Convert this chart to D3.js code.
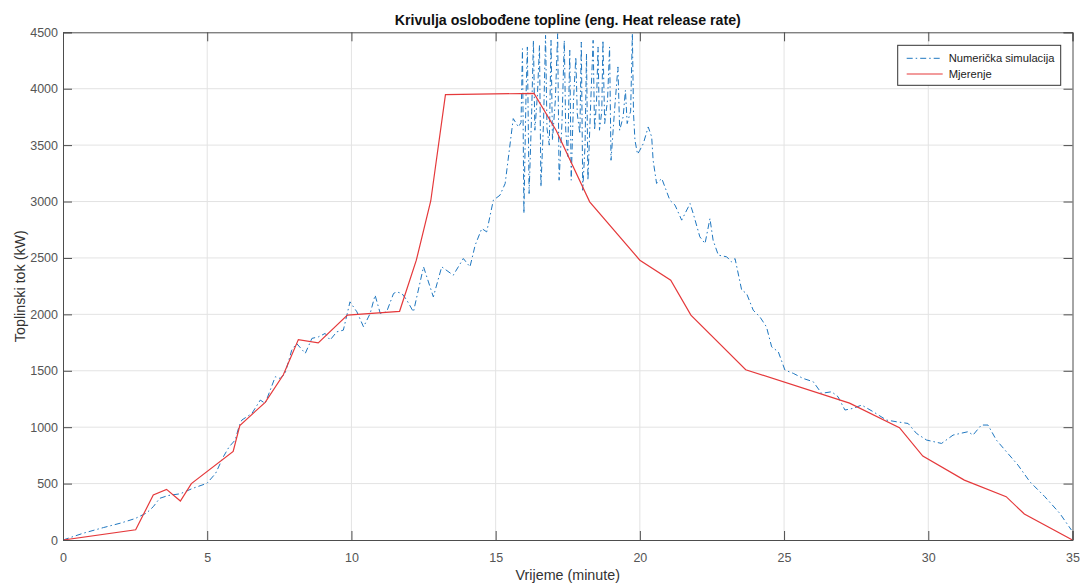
<!DOCTYPE html>
<html>
<head>
<meta charset="utf-8">
<script src="https://cdn.jsdelivr.net/npm/d3@7"></script>
<style>
  body { margin: 0; background: #fff; }
  svg { font-family: "Liberation Sans", Arial, sans-serif; }
</style>
</head>
<body>
<svg id="chart" width="1080" height="584"></svg>
<script>
// Mjerenje (measurement)
let measT = [0, 2.52, 3.13, 3.59, 4.07, 4.45, 5.9, 6.13, 7.01, 7.64, 8.16, 8.85, 9.86, 11.67, 12.25, 12.75, 13.26, 16.33, 17.1, 18.26, 20.0, 21.07, 21.77, 23.67, 27.27, 29.0, 29.81, 31.25, 32.7, 33.33, 35];
let measV = [0, 91, 399, 449, 345, 500, 785, 1015, 1220, 1465, 1776, 1747, 1993, 2027, 2480, 3005, 3947, 3959, 3630, 2997, 2480, 2303, 1993, 1509, 1213, 995, 744, 531, 384, 230, 0];

// Numerička simulacija
let simT = [0, 0.7, 1.4, 2.0, 2.5, 2.9, 3.13, 3.35, 3.64, 4.07, 4.5, 4.99, 5.29, 5.56, 5.76, 5.97, 6.1, 6.2, 6.55, 6.84, 7.01, 7.36, 7.53, 7.7, 7.93, 8.1, 8.4, 8.63, 8.86, 9.09, 9.26, 9.49, 9.72, 9.95, 10.19, 10.42, 10.65, 10.82, 11.0, 11.22, 11.46, 11.57, 11.75, 11.92, 12.15, 12.5, 12.84, 13.13, 13.53, 13.88, 14.11, 14.29, 14.52, 14.69, 14.92, 15.15, 15.33, 15.61, 15.79, 15.88,
  15.93, 15.98, 16.05, 16.1, 16.16, 16.25, 16.31, 16.36, 16.45, 16.52, 16.57, 16.66, 16.73, 16.78, 16.86, 16.92, 16.97, 17.07, 17.15, 17.2, 17.3, 17.38, 17.43, 17.5, 17.57, 17.62, 17.7, 17.78, 17.83, 17.92, 17.97, 18.02, 18.1, 18.15, 18.2, 18.3, 18.38, 18.43, 18.5, 18.55, 18.6, 18.68, 18.72, 18.78, 18.88, 18.95, 19.0, 19.12, 19.24, 19.3, 19.42, 19.5, 19.56, 19.68, 19.74, 19.78, 19.83, 19.92,
  20.0, 20.12, 20.29, 20.41, 20.46, 20.58, 20.76, 21.04, 21.22, 21.45, 21.74, 21.85, 22.08, 22.26, 22.43, 22.54, 22.72, 23.01, 23.18, 23.3, 23.53, 23.7, 23.93, 24.16, 24.39, 24.57, 24.8, 25.03, 25.32, 25.66, 26.01, 26.3, 26.65, 26.87, 27.11, 27.4, 27.69, 28.09, 28.55, 28.9, 29.3, 29.59, 29.94, 30.46, 30.86, 31.38, 31.55, 31.84, 32.07, 32.36, 32.71, 33.11, 33.52, 34.04, 34.56, 34.96];
let simV = [0, 60, 110, 150, 190, 240, 295, 369, 394, 410, 458, 502, 590, 738, 826, 886, 1004, 1063, 1122, 1240, 1211, 1447, 1432, 1477, 1683, 1742, 1654, 1787, 1801, 1831, 1772, 1845, 1860, 2111, 2022, 1889, 2008, 2170, 2008, 2022, 2185, 2199, 2185, 2126, 2022, 2421, 2155, 2421, 2347, 2495, 2421, 2613, 2761, 2731, 3012, 3056, 3160, 3735, 3661, 3700,
  4355, 2894, 3900, 4370, 3071, 3800, 4429, 3632, 3950, 4385, 3130, 3700, 4473, 3650, 3500, 4429, 3543, 3900, 4488, 3189, 3700, 4429, 3632, 3400, 4341, 3189, 3900, 4281, 3780, 3600, 4414, 3100, 3500, 4311, 3189, 3900, 4429, 3632, 3900, 4370, 3632, 3800, 4429, 3691, 3900, 4370, 3366, 3800, 4193, 3632, 3750, 3986, 3691, 3800, 4490, 3780, 3543, 3420,
  3455, 3514, 3661, 3573, 3366, 3160, 3204, 3012, 2968, 2835, 2982, 2894, 2687, 2628, 2849, 2657, 2525, 2510, 2465, 2495, 2215, 2185, 2037, 1978, 1889, 1712, 1668, 1506, 1477, 1432, 1403, 1300, 1314, 1270, 1152, 1167, 1196, 1137, 1063, 1048, 1033, 945, 886, 856, 930, 960, 930, 1019, 1019, 886, 782, 664, 517, 384, 236, 89];

let xTicks = [0, 5, 10, 15, 20, 25, 30, 35];
let yTicks = [0, 500, 1000, 1500, 2000, 2500, 3000, 3500, 4000, 4500];

let titleText = "Krivulja oslobođene topline (eng. Heat release rate)";
let xLabel = "Vrijeme (minute)";
let yLabel = "Toplinski tok (kW)";
let seriesNames = ["Numerička simulacija", "Mjerenje"];

let plotLeft = 63, plotRight = 1072.5, plotTop = 32.3, plotBottom = 540;
let axisColor = "#4d4d4d";

let svg = d3.select("#chart");

let x = d3.scaleLinear().domain([0, 35]).range([plotLeft, plotRight]);
let y = d3.scaleLinear().domain([0, 4500]).range([plotBottom, plotTop]);

// grid
svg.append("g").selectAll("line").data(xTicks.slice(1, -1)).join("line")
  .attr("x1", d => x(d)).attr("x2", d => x(d))
  .attr("y1", plotTop).attr("y2", plotBottom)
  .attr("stroke", "#e3e3e3").attr("stroke-width", 1);
svg.append("g").selectAll("line").data(yTicks.slice(1, -1)).join("line")
  .attr("y1", d => y(d)).attr("y2", d => y(d))
  .attr("x1", plotLeft).attr("x2", plotRight)
  .attr("stroke", "#e3e3e3").attr("stroke-width", 1);

// clip
svg.append("clipPath").attr("id", "plotclip")
  .append("rect").attr("x", plotLeft).attr("y", plotTop)
  .attr("width", plotRight - plotLeft).attr("height", plotBottom - plotTop);

let plot = svg.append("g").attr("clip-path", "url(#plotclip)");

let simData = simT.map((t, i) => [t, simV[i]]);
let measData = measT.map((t, i) => [t, measV[i]]);

let line = d3.line().x(d => x(d[0])).y(d => y(d[1]));

plot.append("path").datum(simData)
  .attr("d", line)
  .attr("fill", "none")
  .attr("stroke", "#1f77c0")
  .attr("stroke-width", 1)
  .attr("stroke-dasharray", "6,3,1.5,3");

plot.append("path").datum(measData)
  .attr("d", line)
  .attr("fill", "none")
  .attr("stroke", "#e5393b")
  .attr("stroke-width", 1.2);

// axes (ticks inside, box)
let xAxis = d3.axisBottom(x).tickValues(xTicks).tickSize(-9).tickPadding(13).tickFormat(d3.format("d"));
let yAxis = d3.axisLeft(y).tickValues(yTicks).tickSize(-9).tickPadding(5).tickFormat(d3.format("d"));
let xTop = d3.axisTop(x).tickValues(xTicks).tickSize(-9).tickFormat("");
let yRight = d3.axisRight(y).tickValues(yTicks).tickSize(-9).tickFormat("");

function styleAxis(g) {
  g.selectAll("path").attr("stroke", axisColor);
  g.selectAll("line").attr("stroke", axisColor);
  g.selectAll("text").attr("fill", "#555").style("font-size", "12.5px")
    .style("font-family", "'Liberation Sans', Arial, sans-serif");
}

svg.append("g").attr("transform", `translate(0,${plotBottom})`).call(xAxis).call(styleAxis);
svg.append("g").attr("transform", `translate(${plotLeft},0)`).call(yAxis).call(styleAxis);
svg.append("g").attr("transform", `translate(0,${plotTop})`).call(xTop).call(styleAxis);
svg.append("g").attr("transform", `translate(${plotRight},0)`).call(yRight).call(styleAxis);

// title and labels
svg.append("text")
  .attr("x", (plotLeft + plotRight) / 2).attr("y", 25)
  .attr("text-anchor", "middle")
  .style("font-weight", "bold").style("font-size", "14.2px")
  .attr("fill", "#111")
  .text(titleText);

svg.append("text")
  .attr("x", (plotLeft + plotRight) / 2).attr("y", 580)
  .attr("text-anchor", "middle")
  .style("font-size", "14.3px").attr("fill", "#333")
  .text(xLabel);

svg.append("text")
  .attr("transform", `translate(25,${(plotTop + plotBottom) / 2}) rotate(-90)`)
  .attr("text-anchor", "middle")
  .style("font-size", "14.3px").attr("fill", "#333")
  .text(yLabel);

// legend
let lg = svg.append("g").attr("transform", "translate(897.7,45.3)");
lg.append("rect").attr("width", 163).attr("height", 40)
  .attr("fill", "#fff").attr("stroke", "#333").attr("stroke-width", 1);
let styles = [
  { stroke: "#1f77c0", dash: "6,3,1.5,3", w: 1 },
  { stroke: "#e5393b", dash: null, w: 1.2 }
];
seriesNames.forEach((name, i) => {
  let yy = 13 + i * 15.7;
  lg.append("line").attr("x1", 9).attr("x2", 45).attr("y1", yy).attr("y2", yy)
    .attr("stroke", styles[i].stroke).attr("stroke-width", styles[i].w)
    .attr("stroke-dasharray", styles[i].dash);
  lg.append("text").attr("x", 51).attr("y", yy + 4)
    .style("font-size", "11.2px").attr("fill", "#222")
    .text(name);
});
</script>
</body>
</html>
